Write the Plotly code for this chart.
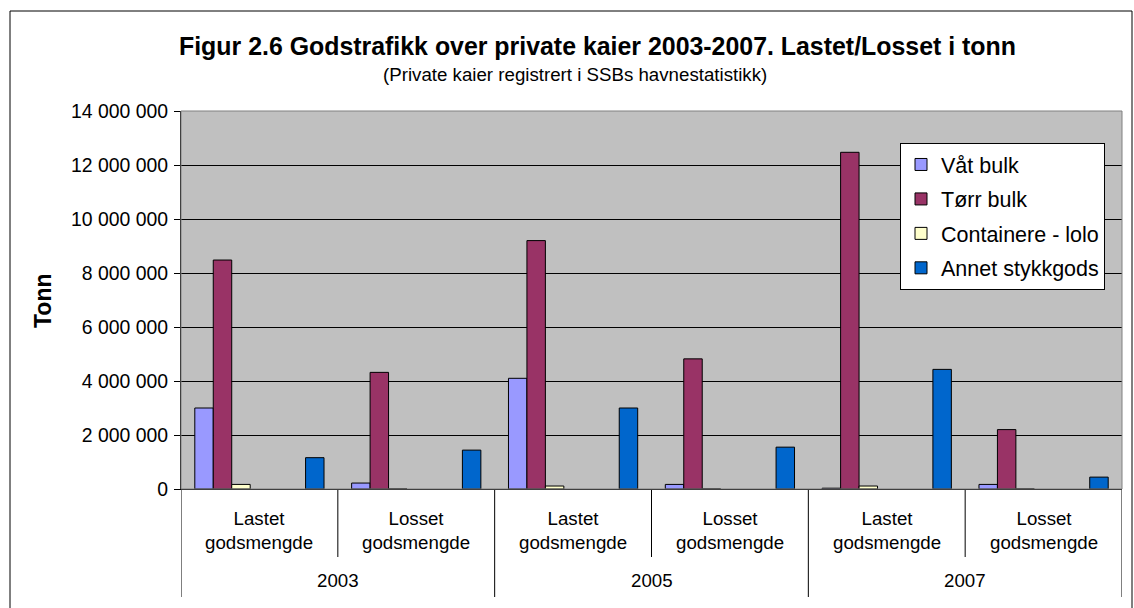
import plotly.graph_objects as go

# ---- data ----
years = ["2003", "2005", "2007"]
flows = ["Lastet<br>godsmengde", "Losset<br>godsmengde"]
series_names = ["Våt bulk", "Tørr bulk", "Containere - lolo", "Annet stykkgods"]
vat_bulk = [3000000, 220000, 4100000, 170000, 30000, 170000]
torr_bulk = [8480000, 4320000, 9200000, 4820000, 12470000, 2200000]
containere_lolo = [170000, 0, 110000, 0, 110000, 0]
annet_stykkgods = [1160000, 1440000, 3000000, 1550000, 4430000, 440000]
empty_series = [None, None, None, None, None, None]  # unused series slots in the original chart
y_ticks = [0, 2000000, 4000000, 6000000, 8000000, 10000000, 12000000, 14000000]

colors = ["#9999FF", "#993366", "#FFFFCC", "#0066CC"]

W, H = 1134, 608
L, R, T, B = 181, 12, 111, 119
PW, PH = W - L - R, H - T - B

def px_x(px):
    return (px - L) / PW

def px_y(py):
    return (H - B - py) / PH

n_cat = len(years) * len(flows)
xs = list(range(n_cat))

fig = go.Figure()
slots = [
    (series_names[0], vat_bulk, colors[0], True),
    (series_names[1], torr_bulk, colors[1], True),
    (series_names[2], containere_lolo, colors[2], True),
    ("", empty_series, "#000000", False),
    ("", empty_series, "#000000", False),
    ("", empty_series, "#000000", False),
    (series_names[3], annet_stykkgods, colors[3], True),
]
for i, (name, vals, col, show) in enumerate(slots):
    fig.add_trace(go.Bar(
        x=xs, y=vals, name=name, offsetgroup=str(i), legendgroup=str(i),
        showlegend=show,
        marker=dict(color=col, line=dict(color="#000000", width=1 if show else 0)),
    ))

annotations = []
shapes = []
# category labels & dividers
for yi, yr in enumerate(years):
    for fi, fl in enumerate(flows):
        idx = yi * len(flows) + fi
        annotations.append(dict(x=idx, y=0, xref="x", yref="paper", text=fl,
                                showarrow=False, yanchor="middle", yshift=-41,
                                font=dict(size=18.7, color="#000000")))
    center = yi * len(flows) + (len(flows) - 1) / 2
    annotations.append(dict(x=center, y=0, xref="x", yref="paper", text=yr,
                            showarrow=False, yanchor="middle", yshift=-91,
                            font=dict(size=18.7, color="#000000")))
for b in range(n_cat + 1):
    outer = (b % len(flows) == 0)
    shapes.append(dict(type="line", xref="x", yref="paper", x0=b - 0.5, x1=b - 0.5,
                       y0=0, y1=px_y(597 if outer else 557),
                       line=dict(color="#000000", width=1)))

# titles
annotations.append(dict(x=px_x(597), y=px_y(46), xref="paper", yref="paper",
                        text="<b>Figur 2.6 Godstrafikk over private kaier 2003-2007. Lastet/Losset i tonn</b>",
                        showarrow=False, xanchor="center", yanchor="middle",
                        font=dict(size=24.9, color="#000000")))
annotations.append(dict(x=px_x(575), y=px_y(74), xref="paper", yref="paper",
                        text="(Private kaier registrert i SSBs havnestatistikk)",
                        showarrow=False, xanchor="center", yanchor="middle",
                        font=dict(size=18.7, color="#000000")))
annotations.append(dict(x=px_x(43), y=px_y(301), xref="paper", yref="paper",
                        text="<b>Tonn</b>", textangle=-90,
                        showarrow=False, xanchor="center", yanchor="middle",
                        font=dict(size=23, color="#000000")))

# plot-area border and outer frame
shapes.append(dict(type="rect", xref="paper", yref="paper", x0=0, x1=1, y0=0, y1=1,
                   line=dict(color="#808080", width=1), layer="above"))
shapes.append(dict(type="rect", xref="paper", yref="paper",
                   x0=px_x(10), x1=px_x(1132), y0=px_y(640), y1=px_y(11),
                   line=dict(color="#000000", width=1), layer="above"))

fig.update_layout(
    width=W, height=H,
    margin=dict(l=L, r=R, t=T, b=B, pad=0),
    paper_bgcolor="#FFFFFF", plot_bgcolor="#C0C0C0",
    font=dict(family="Liberation Sans, Arial, sans-serif", size=18.7, color="#000000"),
    separators=", ",
    barmode="group", bargap=0.176, bargroupgap=0,
    showlegend=True,
    legend=dict(x=px_x(900), y=px_y(143), xanchor="left", yanchor="top",
                bgcolor="#FFFFFF", bordercolor="#000000", borderwidth=1,
                font=dict(size=21.5, color="#000000"),
                traceorder="grouped", tracegroupgap=3.5),
    annotations=annotations,
    shapes=shapes,
    xaxis=dict(range=[-0.5, n_cat - 0.5], showticklabels=False, ticks="",
               showgrid=False, zeroline=False, showline=True,
               linecolor="#000000", linewidth=1, fixedrange=True),
    yaxis=dict(range=[0, 14000000], tickvals=y_ticks, tickformat=",d",
               ticks="outside", ticklen=6, tickcolor="#000000",
               ticklabelstandoff=2,
               showgrid=True, gridcolor="#000000", gridwidth=1,
               zeroline=False, showline=True, linecolor="#000000", linewidth=1,
               tickfont=dict(size=19.4, color="#000000")),
)

fig.write_html("out.html")
